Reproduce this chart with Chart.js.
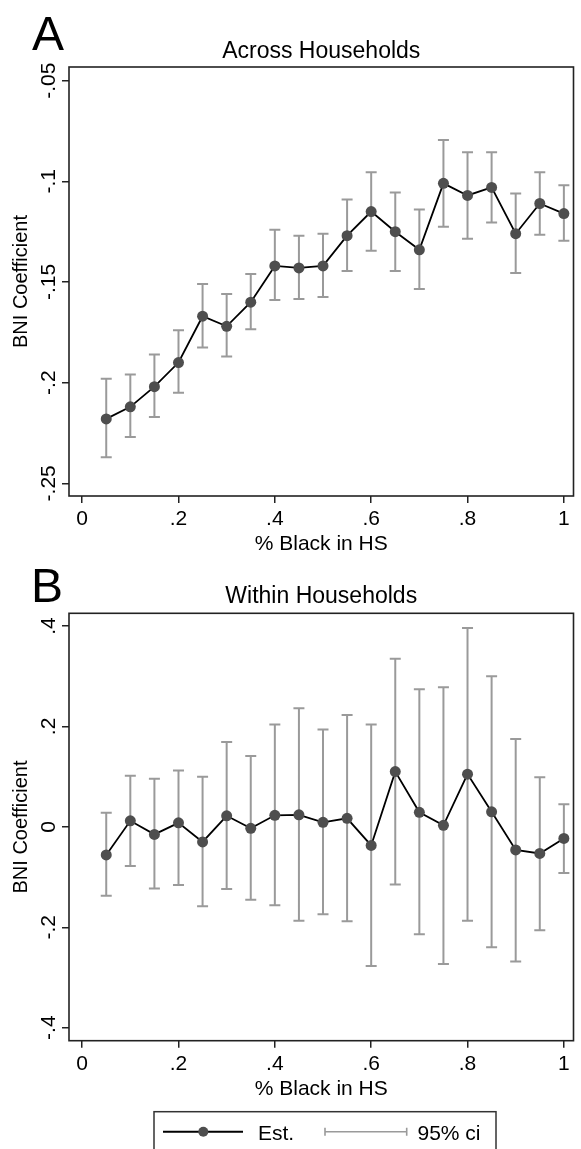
<!DOCTYPE html>
<html><head><meta charset="utf-8">
<script src="https://cdn.jsdelivr.net/npm/chart.js@4.4.1/dist/chart.umd.min.js"></script>
<style>html,body{margin:0;padding:0;background:#fff;} canvas{display:block;}</style>
</head><body>
<canvas id="cA" width="581" height="560"></canvas>
<canvas id="cB" width="581" height="589"></canvas>
<script>
// ---- data ----
const xValues = [0.05,0.10,0.15,0.20,0.25,0.30,0.35,0.40,0.45,0.50,0.55,0.60,0.65,0.70,0.75,0.80,0.85,0.90,0.95,1.00];

const estA = [-0.218,-0.212,-0.202,-0.190,-0.167,-0.172,-0.160,-0.142,-0.143,-0.142,-0.127,-0.115,-0.125,-0.134,-0.101,-0.107,-0.103,-0.126,-0.111,-0.116];
const hiA  = [-0.198,-0.196,-0.186,-0.174,-0.151,-0.156,-0.146,-0.124,-0.127,-0.126,-0.109,-0.0955,-0.1055,-0.114,-0.0795,-0.0855,-0.0855,-0.106,-0.0955,-0.102];
const loA  = [-0.237,-0.227,-0.217,-0.205,-0.1825,-0.187,-0.1735,-0.159,-0.1585,-0.1575,-0.1445,-0.1345,-0.1445,-0.1535,-0.1225,-0.1285,-0.1205,-0.1455,-0.1265,-0.1295];

const estB = [-0.056,0.012,-0.015,0.008,-0.030,0.022,-0.003,0.023,0.024,0.009,0.017,-0.037,0.110,0.029,0.003,0.105,0.030,-0.046,-0.053,-0.023];
const hiB  = [0.028,0.102,0.096,0.112,0.100,0.169,0.141,0.204,0.236,0.194,0.223,0.204,0.335,0.274,0.278,0.396,0.300,0.175,0.099,0.045];
const loB  = [-0.137,-0.078,-0.123,-0.116,-0.158,-0.124,-0.145,-0.156,-0.187,-0.174,-0.188,-0.277,-0.115,-0.214,-0.273,-0.187,-0.240,-0.268,-0.206,-0.092];

const xTickValues = [0,0.2,0.4,0.6,0.8,1];
const xTickLabels = ['0','.2','.4','.6','.8','1'];
const yTickValuesA = [-0.25,-0.2,-0.15,-0.1,-0.05];
const yTickLabelsA = ['-.25','-.2','-.15','-.1','-.05'];
const yTickValuesB = [-0.4,-0.2,0,0.2,0.4];
const yTickLabelsB = ['-.4','-.2','0','.2','.4'];

const FONT = '"Liberation Sans", Arial, Helvetica, sans-serif';
const CI_COLOR = '#9a9a9a';
const MARK_COLOR = '#4e4e4e';

function ciSegments(lo, hi) {
  const out = [];
  xValues.forEach((x, i) => { out.push({x: x, y: lo[i]}, {x: x, y: hi[i]}, {x: x, y: null}); });
  return out;
}
function pts(vals) { return xValues.map((x, i) => ({x: x, y: vals[i]})); }

const stataPlugin = {
  id: 'stata',
  afterDraw(chart, args, o) {
    const ctx = chart.ctx, ca = chart.chartArea, ys = chart.scales.y;
    ctx.save();
    ctx.strokeStyle = '#222'; ctx.lineWidth = 1.6;
    ctx.strokeRect(ca.left, ca.top, ca.right - ca.left, ca.bottom - ca.top);
    ctx.fillStyle = '#000';
    ctx.textBaseline = 'alphabetic';
    ctx.font = '48px ' + FONT; ctx.textAlign = 'left';
    ctx.fillText(o.letter, o.letterX, ca.top - o.letterGap);
    ctx.font = '23px ' + FONT; ctx.textAlign = 'center';
    ctx.fillText(o.title, (ca.left + ca.right) / 2, ca.top - o.titleGap);
    ctx.font = '21px ' + FONT;
    ctx.fillText(o.xTitle, (ca.left + ca.right) / 2, ca.bottom + 54);
    o.yValues.forEach((v, i) => {
      const py = ys.getPixelForValue(v);
      ctx.save(); ctx.translate(o.yTickX, py); ctx.rotate(-Math.PI / 2);
      ctx.textAlign = 'center'; ctx.fillText(o.yLabels[i], 0, 0); ctx.restore();
    });
    ctx.font = '20px ' + FONT;
    ctx.save(); ctx.translate(27, (ca.top + ca.bottom) / 2); ctx.rotate(-Math.PI / 2);
    ctx.textAlign = 'center'; ctx.fillText(o.yTitle, 0, 0); ctx.restore();
    if (o.legend) {
      const L = o.legend;
      ctx.strokeStyle = '#333'; ctx.lineWidth = 1.5;
      ctx.strokeRect(L.left, L.top, L.right - L.left, L.bottom - L.top);
      const ly = L.top + 20;
      ctx.strokeStyle = '#000'; ctx.lineWidth = 2;
      ctx.beginPath(); ctx.moveTo(163, ly); ctx.lineTo(243, ly); ctx.stroke();
      ctx.fillStyle = MARK_COLOR;
      ctx.beginPath(); ctx.arc(203.3, ly, 5, 0, Math.PI * 2); ctx.fill();
      ctx.strokeStyle = CI_COLOR; ctx.lineWidth = 1.6;
      ctx.beginPath(); ctx.moveTo(325, ly); ctx.lineTo(406.7, ly);
      ctx.moveTo(325, ly - 4); ctx.lineTo(325, ly + 4);
      ctx.moveTo(406.7, ly - 4); ctx.lineTo(406.7, ly + 4); ctx.stroke();
      ctx.fillStyle = '#000'; ctx.font = '21px ' + FONT; ctx.textAlign = 'left';
      ctx.fillText('Est.', 258, ly + 8.5);
      ctx.fillText('95% ci', 417.5, ly + 8.5);
    }
    ctx.restore();
  }
};

function makeChart(id, est, lo, hi, yMin, yMax, yVals, yLabs, padTop, xHeight, pluginOpts) {
  return new Chart(document.getElementById(id), {
    type: 'line',
    data: {
      datasets: [
        { label: 'Est.', data: pts(est), borderColor: '#000', borderWidth: 1.8, tension: 0,
          pointRadius: 5.5, pointBackgroundColor: MARK_COLOR, pointBorderColor: MARK_COLOR, pointBorderWidth: 0, order: 0 },
        { label: '95% ci', data: ciSegments(lo, hi), borderColor: CI_COLOR, borderWidth: 2, pointRadius: 0,
          spanGaps: false, tension: 0, order: 2 },
        { label: 'capLo', data: pts(lo), showLine: false, pointStyle: 'line', pointRadius: 5.5,
          pointBorderColor: CI_COLOR, pointBorderWidth: 2, order: 1 },
        { label: 'capHi', data: pts(hi), showLine: false, pointStyle: 'line', pointRadius: 5.5,
          pointBorderColor: CI_COLOR, pointBorderWidth: 2, order: 1 }
      ]
    },
    options: {
      responsive: false, animation: false, events: [],
      layout: { padding: { top: padTop, left: 0, right: 1, bottom: 0 } },
      plugins: { legend: { display: false }, tooltip: { enabled: false }, title: { display: false }, stata: pluginOpts },
      scales: {
        x: {
          type: 'linear', min: -0.0273, max: 1.02,
          afterBuildTicks: s => { s.ticks = xTickValues.map(v => ({ value: v })); },
          afterFit: s => { s.height = xHeight; },
          ticks: { font: { family: FONT, size: 21 }, color: '#000', padding: 4, maxRotation: 0, autoSkip: false,
                   callback: (v, i) => xTickLabels[i] },
          grid: { drawOnChartArea: false, drawTicks: true, tickLength: 7, color: '#222', lineWidth: 1.5 },
          border: { display: false }
        },
        y: {
          type: 'linear', min: yMin, max: yMax,
          afterBuildTicks: s => { s.ticks = yVals.map(v => ({ value: v })); },
          afterFit: s => { s.width = 69; },
          ticks: { display: false },
          grid: { drawOnChartArea: false, drawTicks: true, tickLength: 7, color: '#222', lineWidth: 1.5 },
          border: { display: false }
        }
      }
    },
    plugins: [stataPlugin]
  });
}

makeChart('cA', estA, loA, hiA, -0.2563, -0.0432, yTickValuesA, yTickLabelsA, 67, 64, {
  letter: 'A', letterX: 32, letterGap: 17, title: 'Across Households', titleGap: 8.7,
  xTitle: '% Black in HS', yTitle: 'BNI Coefficient', yValues: yTickValuesA, yLabels: yTickLabelsA, yTickX: 55
});
makeChart('cB', estB, loB, hiB, -0.4259, 0.4253, yTickValuesB, yTickLabelsB, 53.3, 108.3, {
  letter: 'B', letterX: 31, letterGap: 11.3, title: 'Within Households', titleGap: 10,
  xTitle: '% Black in HS', yTitle: 'BNI Coefficient', yValues: yTickValuesB, yLabels: yTickLabelsB, yTickX: 54.5,
  legend: { left: 154, top: 551.7, right: 496, bottom: 592 }
});
</script>
</body></html>
